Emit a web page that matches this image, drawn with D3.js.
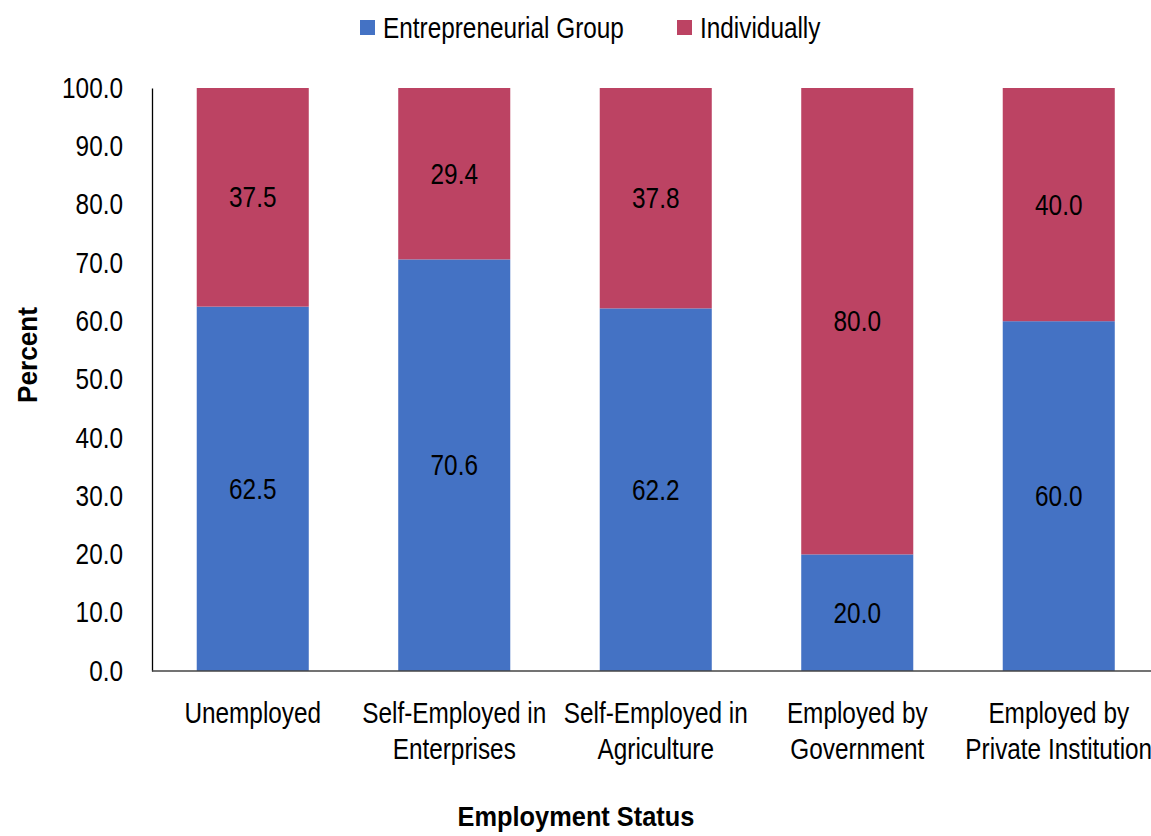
<!DOCTYPE html>
<html>
<head>
<meta charset="utf-8">
<script src="https://cdn.jsdelivr.net/npm/d3@7"></script>
<style>
  html, body { margin: 0; padding: 0; background: #fff; }
  svg text { font-family: "Liberation Sans Narrow", "Arial Narrow", "Liberation Sans", sans-serif; fill: #000; }
</style>
</head>
<body>
<svg id="chart" width="1151" height="836"></svg>
<script>
// Employment status categories (multi-line labels)
const categories = [
  ["Unemployed"],
  ["Self-Employed in", "Enterprises"],
  ["Self-Employed in", "Agriculture"],
  ["Employed by", "Government"],
  ["Employed by", "Private Institution"]
];
const seriesNames = ["Entrepreneurial Group", "Individually"];
const groupValues = [62.5, 70.6, 62.2, 20.0, 60.0];
const individualValues = [37.5, 29.4, 37.8, 80.0, 40.0];
const yTicks = [0, 10, 20, 30, 40, 50, 60, 70, 80, 90, 100];
const colors = ["#4472C4", "#BC4363"];

const svg = d3.select("#chart");
const margin = { left: 152, top: 88, bottom: 165 };
const H = 836;
const plotBottom = H - margin.bottom;
const fs = 29;      // body text size
const K = 0.84;     // horizontal condensing for the narrow typeface look

// Place a horizontally condensed text at (x, y)
function label(parent, x, y, str, opts = {}) {
  return parent.append("text")
    .attr("transform", `translate(${x},${y}) scale(${opts.k || K},1)`)
    .attr("text-anchor", opts.anchor || "middle")
    .attr("dy", opts.dy || "0.35em")
    .style("font-size", (opts.size || fs) + "px")
    .style("font-weight", opts.weight || "normal")
    .text(str);
}

const keys = categories.map(c => c.join(" "));
const x = d3.scaleBand().domain(keys).range([margin.left, margin.left + 5 * 201.5]).paddingInner(0.444).paddingOuter(0.222);
const y = d3.scaleLinear().domain([0, 100]).range([plotBottom, margin.top]);

const rows = keys.map((k, i) => ({ key: k, g: groupValues[i], ind: individualValues[i] }));
const stack = d3.stack().keys(["g", "ind"])(rows);

// Bars
svg.append("g").selectAll("g").data(stack).join("g")
  .attr("fill", (d, i) => colors[i])
  .selectAll("rect").data(d => d).join("rect")
  .attr("x", d => x(d.data.key))
  .attr("width", x.bandwidth())
  .attr("y", d => y(d[1]))
  .attr("height", d => y(d[0]) - y(d[1]));

// Value labels centred in each segment
const valG = svg.append("g");
stack.forEach(layer => {
  layer.forEach(d => {
    label(valG, x(d.data.key) + x.bandwidth() / 2, (y(d[0]) + y(d[1])) / 2, (d[1] - d[0]).toFixed(1));
  });
});

// Y axis
const pad = 29;
const yAxis = d3.axisLeft(y).tickValues(yTicks).tickSize(0).tickPadding(0).tickFormat(d => d.toFixed(1));
const gy = svg.append("g").attr("transform", `translate(${margin.left},0)`).call(yAxis);
gy.select(".domain").attr("stroke", "#000").attr("stroke-width", 1.3);
gy.selectAll(".tick text")
  .attr("font-family", null).attr("font-size", null)
  .style("font-size", fs + "px")
  .attr("x", -pad / K)
  .attr("transform", `scale(${K},1)`);

// X axis baseline
const xAxis = d3.axisBottom(x).tickSize(0).tickFormat("");
const gx = svg.append("g").attr("transform", `translate(0,${plotBottom})`).call(xAxis);
gx.select(".domain").attr("stroke", "#444").attr("stroke-width", 1.3)
  .attr("d", `M${margin.left},0H1151`);

// Category labels
const labelG = svg.append("g");
categories.forEach((lines, i) => {
  const cx = x(keys[i]) + x.bandwidth() / 2;
  lines.forEach((ln, j) => {
    label(labelG, cx, plotBottom + 42 + j * 36, ln);
  });
});

// Axis titles
svg.append("text")
  .attr("transform", `translate(28,355) rotate(-90) scale(0.97,1)`)
  .attr("text-anchor", "middle")
  .attr("dy", "0.35em")
  .style("font-size", "27px").style("font-weight", "bold")
  .text("Percent");
label(svg, 576, 817, "Employment Status", { size: 27, weight: "bold", k: 0.94 });

// Legend
const legend = svg.append("g");
const legendX = [360, 677];
seriesNames.forEach((name, i) => {
  legend.append("rect").attr("x", legendX[i]).attr("y", 20).attr("width", 15).attr("height", 15).attr("fill", colors[i]);
  label(legend, legendX[i] + 23, 28, name, { anchor: "start" });
});
</script>
</body>
</html>
